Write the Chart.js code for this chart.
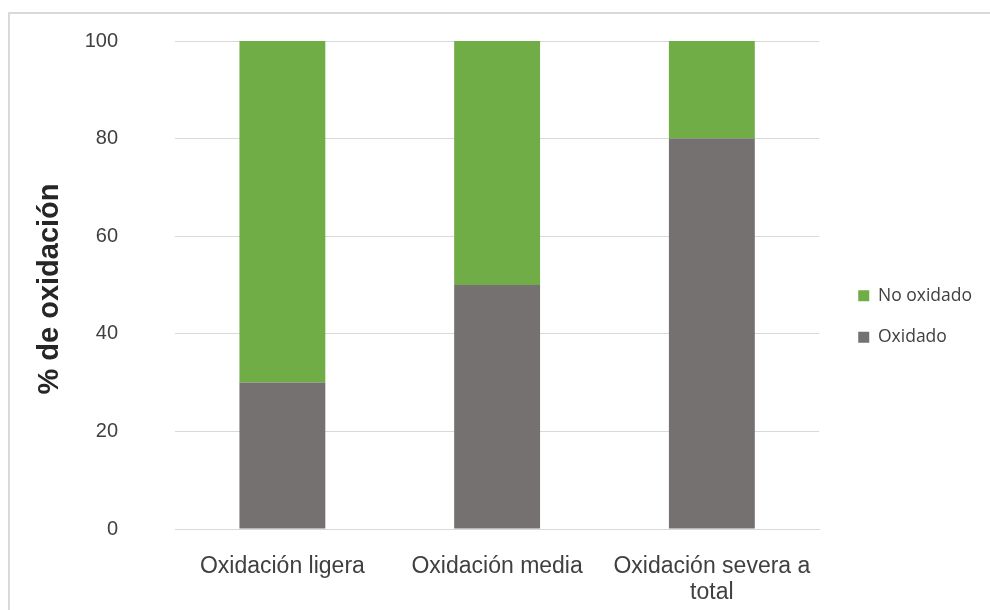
<!DOCTYPE html>
<html>
<head>
<meta charset="utf-8">
<script src="https://cdn.jsdelivr.net/npm/chart.js@4"></script>
<style>
  html, body { margin: 0; padding: 0; background: #fff; }
  #wrap { position: relative; width: 990px; height: 610px; overflow: hidden; }
  #frame { position: absolute; left: 8px; top: 12px; width: 1000px; height: 620px;
           border-top: 2px solid #d9d9d9; border-left: 2px solid #d9d9d9; }
  canvas { position: absolute; left: 0; top: 0; }
</style>
</head>
<body>
<div id="wrap">
  <div id="frame"></div>
  <canvas id="oxChart" width="990" height="610"></canvas>
</div>
<script>
const categories = ['Oxidación ligera', 'Oxidación media', ['Oxidación severa a', 'total']];
const oxidado = [30, 50, 80];
const noOxidado = [70, 50, 20];
const yTicks = [0, 20, 40, 60, 80, 100];

// nudge the legend to where Excel put it
const legendShift = {
    id: 'legendShift',
    afterLayout(chart) {
        const lg = chart.legend;
        lg.left += 15; lg.right += 15;
        lg.top -= 9; lg.bottom -= 9;
    }
};

const ctx = document.getElementById('oxChart').getContext('2d');
const oxChart = new Chart(ctx, {
    type: 'bar',
    data: {
        labels: categories,
        datasets: [{
            label: 'Oxidado',
            data: oxidado,
            backgroundColor: '#767171',
            barPercentage: 0.4,
            categoryPercentage: 1.0,
        }, {
            label: 'No oxidado',
            data: noOxidado,
            backgroundColor: '#70AD47',
            barPercentage: 0.4,
            categoryPercentage: 1.0,
        }]
    },
    options: {
        responsive: false,
        animation: false,
        layout: { padding: { left: 0, right: 23, top: 41, bottom: 0 } },
        plugins: {
            legend: {
                position: 'right',
                reverse: true,
                labels: {
                    boxWidth: 11,
                    boxHeight: 11,
                    padding: 24,
                    color: '#404040',
                    font: { family: 'Open Sans', size: 17.5 }
                }
            },
            tooltip: { enabled: false }
        },
        scales: {
            x: {
                stacked: true,
                grid: { display: false },
                border: { color: '#d9d9d9', width: 1 },
                afterFit: axis => { axis.height = 81; },
                ticks: {
                    color: '#404040',
                    padding: 16,
                    maxRotation: 0,
                    font: { family: 'Liberation Sans', size: 23, lineHeight: 1.15 }
                }
            },
            y: {
                stacked: true,
                min: 0,
                max: 100,
                afterBuildTicks: axis => { axis.ticks = yTicks.map(v => ({ value: v })); },
                afterFit: axis => {
                    axis.width = 175;
                    axis.paddingTop = 0;
                    axis.paddingBottom = 0;
                },
                grid: { color: '#d9d9d9', drawTicks: false },
                border: { display: false },
                ticks: {
                    color: '#404040',
                    padding: 57,
                    font: { family: 'Liberation Sans', size: 20 }
                },
                title: {
                    display: true,
                    text: '% de oxidación ',
                    color: '#262626',
                    padding: { top: 33 },
                    font: { family: 'Liberation Sans', size: 29, weight: 'bold' }
                }
            }
        }
    },
    plugins: [legendShift]
});
</script>
</body>
</html>
